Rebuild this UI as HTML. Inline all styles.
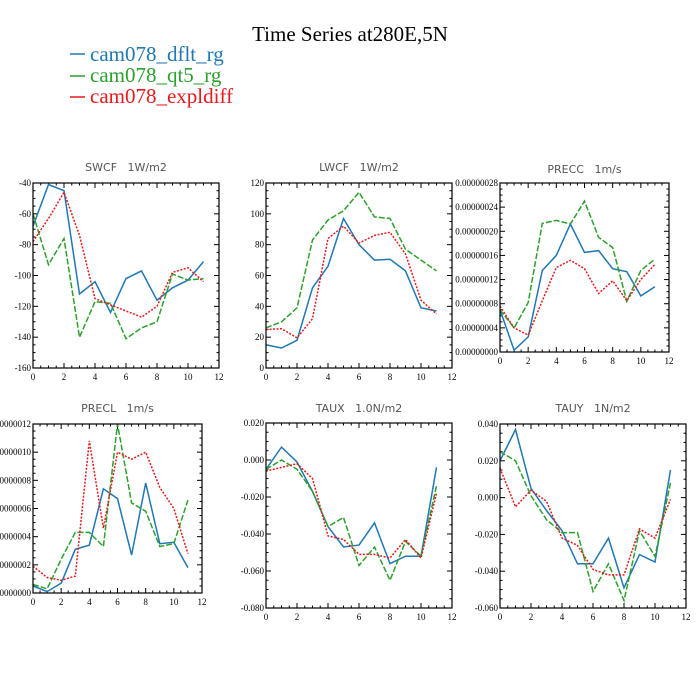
<!DOCTYPE html>
<html><head><meta charset="utf-8">
<style>
html,body{margin:0;padding:0;background:#fff;}
svg{display:block;}
svg text{white-space:pre;}
</style></head>
<body>
<svg id="chart" width="700" height="700" xmlns="http://www.w3.org/2000/svg">
<text x="350" y="41" text-anchor="middle" font-family="Liberation Serif, serif" font-size="21" fill="#000">Time Series at280E,5N</text>
<g>
<line x1="70" y1="54" x2="85" y2="54" stroke="#1f77b4" stroke-width="1.5"/>
<text x="90" y="61" font-family="Liberation Serif, serif" font-size="21" fill="#1f77b4">cam078_dflt_rg</text>
<line x1="70" y1="76" x2="85" y2="76" stroke="#2ca02c" stroke-width="1.5"/>
<text x="90" y="82" font-family="Liberation Serif, serif" font-size="21" fill="#2ca02c">cam078_qt5_rg</text>
<line x1="70" y1="97" x2="85" y2="97" stroke="#e41a1c" stroke-width="1.5"/>
<text x="90" y="103" font-family="Liberation Serif, serif" font-size="21" fill="#e41a1c">cam078_expldiff</text>
</g>
</svg>
<script>
const months = [0,1,2,3,4,5,6,7,8,9,10,11];
const xTicks = [0,2,4,6,8,10,12];

const swcfDflt = [-68,-41,-45,-112,-104,-124,-102,-97,-116,-108,-103,-91];
const swcfQt5 = [-60,-93,-76,-140,-117,-118,-141,-134,-130,-99,-103,-102];
const swcfExpl = [-78,-63,-46,-74,-115,-119,-123,-127,-120,-98,-95,-104];
const swcfTicks = ["-40","-60","-80","-100","-120","-140","-160"];

const lwcfDflt = [15,13,18,52,66,97,80,70,70.5,63,39,37];
const lwcfQt5 = [26,30,39,83,96,102,114,98,97,77,70,63];
const lwcfExpl = [25,25.5,19.5,32,84,92,81,86,88,74,44,35];
const lwcfTicks = ["0","20","40","60","80","100","120"];

const preccDflt = [7e-8,0.3e-8,2.5e-8,13.5e-8,16e-8,21.2e-8,16.5e-8,16.8e-8,13.8e-8,13.3e-8,9.3e-8,10.8e-8];
const preccQt5 = [7e-8,4e-8,8.2e-8,21.3e-8,21.8e-8,21.2e-8,25e-8,19e-8,17.3e-8,8.4e-8,13.5e-8,15.4e-8];
const preccExpl = [7.6e-8,4e-8,2.8e-8,8.5e-8,14e-8,15.2e-8,13.8e-8,9.7e-8,11.8e-8,8.5e-8,12e-8,14.5e-8];
const preccTicks = ["0.00000000","0.00000004","0.00000008","0.00000012","0.00000016","0.00000020","0.00000024","0.00000028"];

const preclDflt = [0.5e-8,0.1e-8,0.7e-8,3.1e-8,3.4e-8,7.4e-8,6.7e-8,2.7e-8,7.8e-8,3.5e-8,3.6e-8,1.8e-8];
const preclQt5 = [0.6e-8,0.3e-8,2.4e-8,4.3e-8,4.3e-8,3.3e-8,12e-8,6.4e-8,5.8e-8,3.3e-8,3.5e-8,6.6e-8];
const preclExpl = [1.9e-8,1.1e-8,0.9e-8,1.2e-8,10.8e-8,4.6e-8,10e-8,9.5e-8,10e-8,7.5e-8,6e-8,2.8e-8];
const preclTicks = ["0.00000000","0.00000002","0.00000004","0.00000006","0.00000008","0.00000010","0.00000012"];

const tauxDflt = [-0.005,0.007,-0.001,-0.017,-0.036,-0.047,-0.046,-0.034,-0.056,-0.052,-0.052,-0.004];
const tauxQt5 = [-0.005,0,-0.005,-0.017,-0.036,-0.031,-0.057,-0.047,-0.065,-0.044,-0.052,-0.014];
const tauxExpl = [-0.006,-0.004,-0.002,-0.010,-0.041,-0.043,-0.051,-0.051,-0.053,-0.043,-0.053,-0.018];
const tauxTicks = ["0.020","0.000","-0.020","-0.040","-0.060","-0.080"];

const tauyDflt = [0.020,0.037,0.005,-0.007,-0.018,-0.036,-0.036,-0.022,-0.049,-0.031,-0.035,0.015];
const tauyQt5 = [0.025,0.020,0.001,-0.012,-0.019,-0.019,-0.051,-0.036,-0.056,-0.018,-0.032,0.008];
const tauyExpl = [0.016,-0.005,0.004,-0.002,-0.022,-0.026,-0.039,-0.042,-0.042,-0.017,-0.022,-0.001];
const tauyTicks = ["0.040","0.020","0.000","-0.020","-0.040","-0.060"];

const NS = "http://www.w3.org/2000/svg";
const svg = document.getElementById('chart');
function mk(tag, attrs, parent){
  const e = document.createElementNS(NS, tag);
  for (const k in attrs) e.setAttribute(k, attrs[k]);
  (parent||svg).appendChild(e);
  return e;
}

function panel(cfg){
  const g = mk('g', {});
  
  
  const {L,R,T,B,ymin,ymax,ytickLabels,yminor} = cfg;
  const sx = v => L + (v - 0) / 12 * (R - L);
  const sy = v => B - (v - ymin) / (ymax - ymin) * (B - T);
  const t = mk('text', {x:(L+R)/2, y:cfg.titleY, 'text-anchor':'middle', 'font-family':'DejaVu Sans, sans-serif', 'font-size':'11', fill:'#555'}, g);
  t.textContent = cfg.title;
  
  
  const tk = mk('g', {stroke:'#000','stroke-width':'1'}, g);
  for (let i = 0; i <= 24; i++) {
    const x = sx(i*0.5); const len = (i%4===0) ? 5 : 2.5;
    mk('line', {x1:x,y1:B,x2:x,y2:B-len}, tk);
    mk('line', {x1:x,y1:T,x2:x,y2:T+len}, tk);
  }
  const n = ytickLabels.length - 1;
  for (let i = 0; i <= n*yminor; i++) {
    const v = ymin + (ymax-ymin)*i/(n*yminor); const y = sy(v);
    const len = (i%yminor===0) ? 5 : 2.5;
    mk('line', {x1:L,y1:y,x2:L+len,y2:y}, tk);
    mk('line', {x1:R,y1:y,x2:R-len,y2:y}, tk);
  }
  xTicks.forEach(v => {
    const tx = mk('text', {x:sx(v), y:B+12, 'text-anchor':'middle', 'font-family':'Liberation Serif, serif', 'font-size':'9', fill:'#000'}, g);
    tx.textContent = v;
    
    
  });
  ytickLabels.forEach((lab) => {
    const v = parseFloat(lab);
    const ty = mk('text', {x:L-2, y:sy(v)+3, 'text-anchor':'end', 'font-family':'Liberation Serif, serif', 'font-size':'9', fill:'#000'}, g);
    ty.textContent = lab;
    
    
  });
  const styles = [
    {data:cfg.s1, c:'#1f77b4', d:'', n:'dflt'},
    {data:cfg.s2, c:'#2ca02c', d:'6,2', n:'qt5'},
    {data:cfg.s3, c:'#e41a1c', d:'2,1.5', n:'expldiff'}
  ];
  styles.forEach(s => {
    const pts = s.data.map((v,i) => sx(months[i]).toFixed(1)+','+sy(v).toFixed(1)).join(' ');
    const p = mk('polyline', {points:pts, fill:'none', stroke:s.c, 'stroke-width':'1.5', 'stroke-dasharray':s.d}, g);
    
    
  });
  const fr = mk('rect', {x:L, y:T, width:R-L, height:B-T, fill:'none', stroke:'#000', 'stroke-width':'1.2'}, g);
  
  
}

panel({name:'swcf', title:'SWCF   1W/m2', titleY:171, L:33,R:219,T:183,B:368, ymin:-160,ymax:-40, ytickLabels:swcfTicks, yminor:4, s1:swcfDflt,s2:swcfQt5,s3:swcfExpl});
panel({name:'lwcf', title:'LWCF   1W/m2', titleY:171, L:266,R:452,T:183,B:368, ymin:0,ymax:120, ytickLabels:lwcfTicks, yminor:4, s1:lwcfDflt,s2:lwcfQt5,s3:lwcfExpl});
panel({name:'precc', title:'PRECC   1m/s', titleY:173, L:500,R:669,T:183,B:352, ymin:0,ymax:28e-8, ytickLabels:preccTicks, yminor:4, s1:preccDflt,s2:preccQt5,s3:preccExpl});
panel({name:'precl', title:'PRECL   1m/s', titleY:412, L:33,R:202,T:424,B:593, ymin:0,ymax:12e-8, ytickLabels:preclTicks, yminor:4, s1:preclDflt,s2:preclQt5,s3:preclExpl});
panel({name:'taux', title:'TAUX   1.0N/m2', titleY:412, L:266,R:452,T:423,B:608, ymin:-0.08,ymax:0.02, ytickLabels:tauxTicks, yminor:4, s1:tauxDflt,s2:tauxQt5,s3:tauxExpl});
panel({name:'tauy', title:'TAUY   1N/m2', titleY:412, L:500,R:686,T:424,B:608, ymin:-0.06,ymax:0.04, ytickLabels:tauyTicks, yminor:4, s1:tauyDflt,s2:tauyQt5,s3:tauyExpl});
</script>
</body></html>
